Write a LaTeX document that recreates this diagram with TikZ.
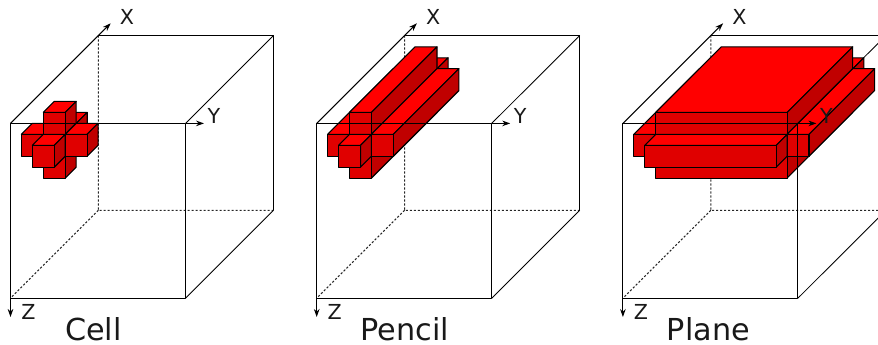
\documentclass[tikz,border=0pt]{standalone}
\usepackage{fontspec}
\setmainfont{DejaVu Sans}
\usetikzlibrary{arrows.meta}
\definecolor{redtop}{RGB}{255,0,0}
\definecolor{redfront}{RGB}{224,0,0}
\definecolor{redside}{RGB}{192,0,0}
\tikzset{
  edge/.style={draw=black,line width=0.8pt,line join=round},
  thin edge/.style={draw=black,line width=0.65pt},
  hidden/.style={draw=black!85,line width=0.8pt,dash pattern=on 1.6pt off 1.4pt},
  axis/.style={draw=black,line width=0.8pt,-{Stealth[length=6pt,width=4.2pt]}},
  axislabel/.style={font=\fontsize{15.5pt}{15.5pt}\selectfont,inner sep=0pt,text=black!90},
  caption/.style={font=\fontsize{22.7pt}{22.7pt}\selectfont,inner sep=0pt,text=black!90,anchor=base},
}
% front upper-left corner: x y w h d
\newcommand{\redbox}[5]{%
  \path[edge,fill=redtop] (#1,#2) -- ++(#5,-#5) -- ++(#3,0) -- ++(-#5,#5) -- cycle;
  \path[edge,fill=redside] (#1+#3,#2) -- ++(#5,-#5) -- ++(0,#4) -- ++(-#5,#5) -- cycle;
  \path[edge,fill=redfront] (#1,#2) rectangle ++(#3,#4);
}
\newcommand{\boxback}{%
  \coordinate (a) at (10.5,123.4); \coordinate (b) at (185.5,123.4);
  \coordinate (c) at (185.5,298.2); \coordinate (d) at (10.5,298.2);
  \coordinate (ba) at (98.4,35.5); \coordinate (bb) at (273.5,35.5);
  \coordinate (bc) at (273.5,210.3); \coordinate (bd) at (98.4,210.3);
  \draw[hidden] (ba) -- (bd) -- (bc) (bd) -- (d);
  \draw[edge] (ba) -- (bb) -- (bc);
  \draw[thin edge] (c) -- (bc);
}
\newcommand{\boxfront}{%
  \draw[edge] (a) -- (b) -- (c) -- (d) -- cycle;
  \draw[thin edge] (b) -- (bb);
  \coordinate (xtip) at (110.7,23.3);
  \coordinate (ytip) at (204,123.4);
  \coordinate (ztip) at (10.5,317);
  \draw[axis] (a) -- (xtip);
  \draw[axis] (b) -- (ytip);
  \draw[axis] (d) -- (ztip);
  \node[axislabel] (lx) at (127,17) {X};
  \node[axislabel] (ly) at (214,115.5) {Y};
  \node[axislabel] (lz) at (28.5,312) {Z};
}
\begin{document}
\begin{tikzpicture}[x=0.75pt,y=-0.75pt]
\useasboundingbox (0,0) rectangle (878,345);
\clip (0,0) rectangle (878,345);
% Cell
\begin{scope}
  \boxback
  \redbox{54.4}{123.4}{21.9}{21.9}{10.94}
  \redbox{21.44}{134.3}{21.9}{21.9}{10.94}
  \redbox{43.3}{134.3}{21.9}{21.9}{10.94}
  \redbox{43.3}{156.2}{21.9}{21.9}{10.94}
  \redbox{43.3}{112.4}{21.9}{21.9}{10.94}
  \redbox{65.2}{134.3}{21.9}{21.9}{10.94}
  \redbox{32.4}{145.3}{21.9}{21.9}{10.94}
  \boxfront
  \node[caption] (cell) at (93.5,340.7) {Cell};
\end{scope}
% Pencil
\begin{scope}[shift={(306.2,0)}]
  \boxback
  \redbox{54.4}{123.4}{21.9}{21.9}{65.6}
  \redbox{21.44}{134.3}{21.9}{21.9}{65.6}
  \redbox{43.3}{134.3}{21.9}{21.9}{65.6}
  \redbox{43.3}{156.2}{21.9}{21.9}{65.6}
  \redbox{43.3}{112.4}{21.9}{21.9}{65.6}
  \redbox{65.2}{134.3}{21.9}{21.9}{65.6}
  \redbox{32.4}{145.3}{21.9}{21.9}{10.94}
  \boxfront
  \node[caption] (pencil) at (98.8,340.7) {Pencil};
\end{scope}
% Plane
\begin{scope}[shift={(612.4,0)}]
  \boxback
  \redbox{54.4}{123.4}{131.4}{21.9}{65.6}
  \redbox{21.44}{134.3}{21.9}{21.9}{65.6}
  \redbox{43.3}{134.3}{131.4}{21.9}{65.6}
  \redbox{43.3}{156.2}{131.4}{21.9}{65.6}
  \redbox{43.3}{112.4}{131.4}{21.9}{65.6}
  \redbox{174.7}{134.3}{21.9}{21.9}{65.6}
  \redbox{32.4}{145.3}{131.4}{21.9}{10.94}
  \boxfront
  \node[caption] (plane) at (96,340.7) {Plane};
\end{scope}
\end{tikzpicture}
\end{document}
